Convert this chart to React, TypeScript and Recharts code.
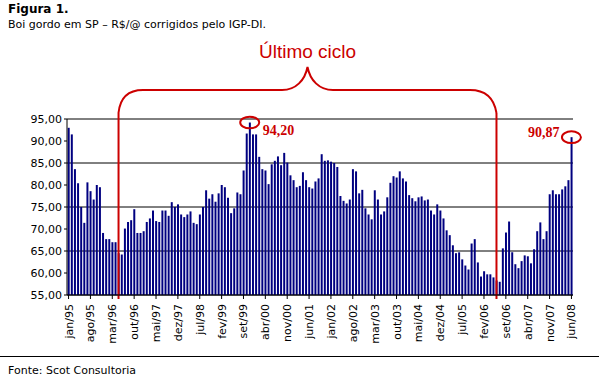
import React from 'react';
import {
  BarChart,
  Bar,
  XAxis,
  YAxis,
  CartesianGrid,
  ReferenceLine,
  ReferenceDot,
} from 'recharts';

const RED = '#cc0000';
const NAVY = '#000080';
const FONT = '"DejaVu Sans", Verdana, sans-serif';

const mesesNomes = ['jan', 'fev', 'mar', 'abr', 'mai', 'jun', 'jul', 'ago', 'set', 'out', 'nov', 'dez'];
const anos = ['95', '96', '97', '98', '99', '00', '01', '02', '03', '04', '05', '06', '07', '08'];

// R$/@ corrigidos, por ano (jan..dez)
const precos1995 = [93.0, 91.5, 83.6, 80.4, 75.0, 71.4, 80.6, 78.6, 76.7, 80.0, 79.5, 69.1];
const precos1996 = [67.7, 67.7, 67.0, 67.0, 64.5, 64.2, 70.1, 71.6, 72.0, 74.5, 69.1, 69.1];
const precos1997 = [69.5, 71.6, 72.4, 74.2, 71.8, 71.6, 74.2, 74.2, 73.0, 76.1, 75.0, 75.6];
const precos1998 = [73.3, 72.7, 73.3, 74.0, 71.4, 71.1, 73.3, 75.0, 78.8, 76.9, 77.9, 76.2];
const precos1999 = [78.1, 80.0, 79.5, 77.1, 73.6, 74.7, 78.3, 77.9, 83.3, 91.7, 94.2, 91.5];
const precos2000 = [91.5, 86.4, 83.6, 83.3, 80.2, 84.7, 85.5, 86.5, 84.5, 87.3, 85.1, 82.2];
const precos2001 = [81.1, 79.5, 79.8, 82.9, 81.1, 79.5, 79.2, 80.8, 81.5, 87.0, 85.5, 85.6];
const precos2002 = [85.3, 85.0, 84.1, 77.5, 76.4, 75.8, 76.7, 83.6, 83.1, 78.1, 78.9, 74.7];
const precos2003 = [73.3, 72.2, 78.8, 76.7, 73.3, 74.0, 77.2, 80.5, 82.0, 81.7, 83.1, 81.5];
const precos2004 = [80.8, 77.7, 77.0, 76.3, 77.2, 77.4, 76.5, 76.7, 74.2, 73.3, 75.6, 74.2];
const precos2005 = [72.4, 69.7, 68.6, 66.3, 64.5, 64.7, 63.1, 61.7, 60.8, 66.7, 67.7, 62.4];
const precos2006 = [59.2, 60.4, 59.7, 59.7, 59.0, 58.3, 58.0, 65.6, 69.2, 71.7, 64.7, 62.0];
const precos2007 = [61.1, 62.7, 64.0, 63.8, 62.2, 65.4, 69.5, 71.5, 67.7, 69.5, 77.9, 78.8];
const precos2008 = [77.9, 77.9, 79.0, 79.7, 81.1, 90.87];

const precos = [
  ...precos1995, ...precos1996, ...precos1997, ...precos1998, ...precos1999,
  ...precos2000, ...precos2001, ...precos2002, ...precos2003, ...precos2004,
  ...precos2005, ...precos2006, ...precos2007, ...precos2008,
];

const yTicks = [55, 60, 65, 70, 75, 80, 85, 90, 95];

// inicio e fim do "Último ciclo", picos destacados
const inicioCiclo = 'mai/96';
const fimCiclo = 'jun/06';
const pico = { mes: 'nov/99', valor: 94.2, rotulo: '94,20' };
const atual = { mes: 'jun/08', valor: 90.87, rotulo: '90,87' };

const data = precos.map((v, i) => ({
  mes: `${mesesNomes[i % 12]}/${anos[Math.floor(i / 12)]}`,
  preco: v,
}));

const fmt = (v: number) => v.toFixed(2).replace('.', ',');

function XTick({ x, y, payload }: any) {
  const tx = x + 4;
  const ty = y + 3;
  return (
    <text
      x={tx}
      y={ty}
      transform={`rotate(-90, ${tx}, ${ty})`}
      textAnchor="end"
      fontSize={11}
      fontFamily={FONT}
      fill="#000"
    >
      {payload.value}
    </text>
  );
}

function CicloLine(props: any) {
  const { x1, y1, x2, y2 } = props;
  return <line x1={x1} x2={x2} y1={Math.min(y1, y2) - 6} y2={Math.max(y1, y2) + 4} stroke={RED} strokeWidth={2} />;
}

function Destaque(lado: 'dir' | 'esq', rotulo: string) {
  return function Shape(props: any) {
    const { cx, cy } = props;
    return (
      <g>
        <ellipse cx={cx} cy={cy} rx={9.5} ry={5.8} fill="none" stroke={RED} strokeWidth={2} />
        <text
          x={lado === 'dir' ? cx + 13 : cx - 12}
          y={lado === 'dir' ? cy + 12 : cy}
          textAnchor={lado === 'dir' ? 'start' : 'end'}
          fontSize={14}
          fontWeight="bold"
          fontFamily='"Liberation Serif", "Times New Roman", serif'
          fill={RED}
        >
          {rotulo}
        </text>
      </g>
    );
  };
}

export default function App() {
  return (
    <div style={{ position: 'absolute', left: 0, top: 0, width: 599, height: 382, background: '#fff', fontFamily: FONT }}>
      <div style={{ position: 'absolute', left: 8, top: 2, fontSize: 12, fontWeight: 'bold', lineHeight: '14px' }}>Figura 1.</div>
      <div style={{ position: 'absolute', left: 8, top: 18, fontSize: 11, lineHeight: '14px' }}>
        Boi gordo em SP – R$/@ corrigidos pelo IGP-DI.
      </div>

      <BarChart
        width={599}
        height={382}
        data={data}
        margin={{ top: 119, right: 26, bottom: 27, left: 7 }}
        barCategoryGap="22%"
      >
        <CartesianGrid vertical={false} stroke="#000" strokeWidth={1} />
        <XAxis
          dataKey="mes"
          interval={6}
          height={60}
          tick={<XTick />}
          tickSize={4}
          axisLine={{ stroke: '#000' }}
          tickLine={{ stroke: '#000' }}
        />
        <YAxis
          domain={[55, 95]}
          ticks={yTicks}
          width={60}
          tickSize={3}
          tickFormatter={fmt}
          tick={{ fontSize: 11, fontFamily: FONT, fill: '#000' }}
          axisLine={{ stroke: '#000' }}
          tickLine={{ stroke: '#000' }}
        />
        <Bar dataKey="preco" fill={NAVY} isAnimationActive={false} />
        <ReferenceLine x={inicioCiclo} shape={<CicloLine />} ifOverflow="visible" />
        <ReferenceLine x={fimCiclo} shape={<CicloLine />} ifOverflow="visible" />
        <ReferenceDot x={pico.mes} y={pico.valor} ifOverflow="visible" shape={Destaque('dir', pico.rotulo)} />
        <ReferenceDot x={atual.mes} y={atual.valor} ifOverflow="visible" shape={Destaque('esq', atual.rotulo)} />
      </BarChart>

      <svg width={599} height={382} style={{ position: 'absolute', left: 0, top: 0, pointerEvents: 'none' }}>
        <text x={307.5} y={58} textAnchor="middle" fontSize={19} fontFamily='"Liberation Sans", Arial, sans-serif' fill={RED}>
          Último ciclo
        </text>
        <path
          d="M118.5,113 C120,98 128,90 143,90 L282,90 C296,90 305,80 307.5,67 C310,80 319,90 333,90 L470,90 C485,90 494,98 496.5,113"
          fill="none"
          stroke={RED}
          strokeWidth={2}
        />
        <line x1={0} x2={599} y1={356.5} y2={356.5} stroke="#000" strokeWidth={1} />
      </svg>

      <div style={{ position: 'absolute', left: 8, top: 364, fontSize: 11, lineHeight: '14px' }}>Fonte: Scot Consultoria</div>
    </div>
  );
}
